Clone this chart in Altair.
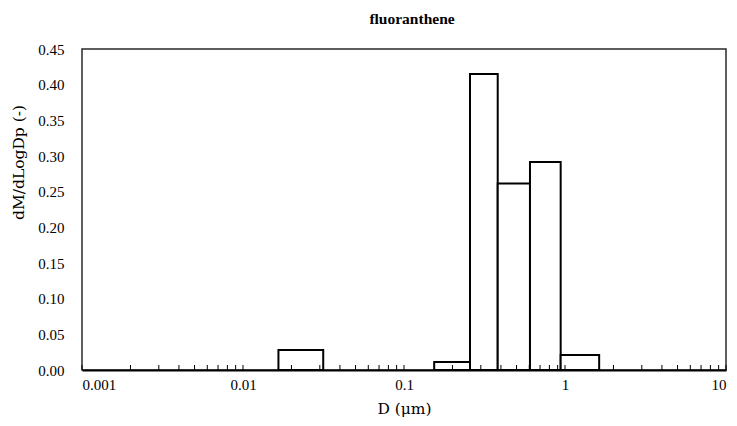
import altair as alt
import pandas as pd

# Size bins (µm): lower and upper edges of each impactor stage
bin_lo = [0.0166, 0.154, 0.257, 0.382, 0.606, 0.94]
bin_hi = [0.0315, 0.257, 0.382, 0.606, 0.94, 1.63]
dm_dlogdp = [0.028, 0.0112, 0.415, 0.2615, 0.2917, 0.021]

# Log-axis tick positions (minor ticks drawn inside the plot)
tick_vals = [m * 10.0 ** e for e in (-3, -2, -1, 0) for m in range(1, 10)] + [10.0]
decade_vals = [0.001, 0.01, 0.1, 1, 10]
y_vals = [round(0.05 * i, 2) for i in range(10)]

bars = pd.DataFrame({"lo": bin_lo, "hi": bin_hi, "v": dm_dlogdp})
ticks = pd.DataFrame({"t": tick_vals})

FONT = "'Liberation Serif', serif"
TITLE_FONT = "'DejaVu Serif', serif"
W, H = 644, 321

x_scale = alt.Scale(type="log", domain=[0.001, 10], nice=False)
y_scale = alt.Scale(domain=[0, 0.45], nice=False)

bar_layer = alt.Chart(bars).mark_rect(
    fill="white", stroke="black", strokeWidth=2
).encode(
    x=alt.X("lo:Q", scale=x_scale,
            axis=alt.Axis(values=decade_vals, ticks=False, grid=False,
                          labelExpr="format(datum.value, '~g')",
                          title="D (μm)", domainColor="black", domainWidth=2,
                          labelPadding=7, titlePadding=9,
                          labelFont=FONT, titleFont=TITLE_FONT,
                          labelFontSize=15, titleFontSize=15.5)),
    x2="hi:Q",
    y=alt.Y("v:Q", scale=y_scale,
            axis=alt.Axis(values=y_vals, format=".2f", ticks=False, grid=False,
                          domain=False, labelPadding=18,
                          labelFont=FONT, titleFont=TITLE_FONT,
                          labelFontSize=15, titleFontSize=15.5,
                          title="dM/dLogDp (-)", titleX=-64, titleY=113,
                          titleAlign="center", titleBaseline="middle")),
    y2=alt.datum(0),
)

tick_layer = alt.Chart(ticks).mark_rule(color="black", strokeWidth=1).encode(
    x=alt.X("t:Q", scale=x_scale),
    y=alt.value(H),
    y2=alt.value(H - 5),
)

chart = alt.layer(bar_layer, tick_layer).properties(
    width=W, height=H,
    title=alt.TitleParams("fluoranthene", font=FONT, fontSize=15.5,
                          fontWeight="bold", color="black", offset=15,
                          dx=8, anchor="middle"),
    autosize=alt.AutoSizeParams(type="none"),
    padding={"left": 82, "top": 49, "right": 11, "bottom": 56},
).configure_view(
    stroke="#2a2a2a", strokeWidth=1.5
).configure_axis(
    labelColor="black", titleColor="black", titleFontWeight="normal",
)

chart.save("out.html", embed_options={"renderer": "svg", "actions": False})
